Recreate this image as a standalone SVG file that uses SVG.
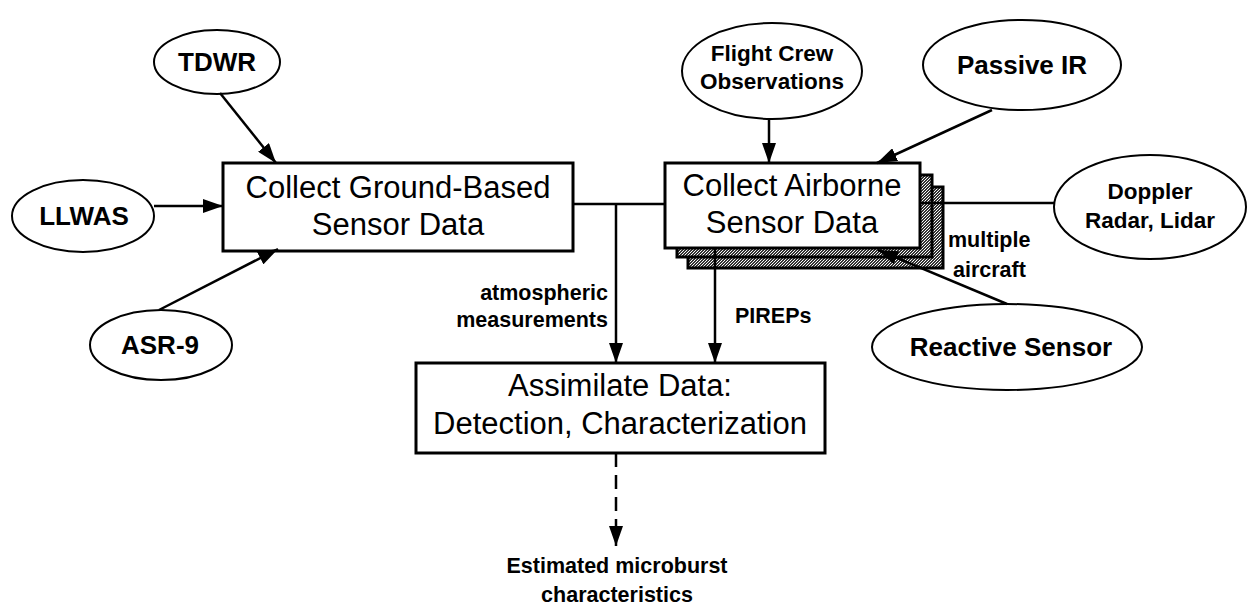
<svg xmlns="http://www.w3.org/2000/svg" width="1248" height="607" viewBox="0 0 1248 607">
<style>
.box{fill:#fff;stroke:#000;stroke-width:3}
.shadow{fill:url(#dither);stroke:#000;stroke-width:3}
.ell{fill:#fff;stroke:#000;stroke-width:2}
.btxt{font-family:"Liberation Sans",Arial,sans-serif;font-size:31px;fill:#000;text-anchor:middle}
.etxt{font-family:"Liberation Sans",Arial,sans-serif;font-size:26px;font-weight:bold;fill:#000;text-anchor:middle}
.esm{font-size:22.5px}
.ltxt{font-family:"Liberation Sans",Arial,sans-serif;font-size:21.5px;font-weight:bold;fill:#000}
.con{fill:none;stroke:#000;stroke-width:2.5}
</style>
<defs>
<pattern id="dither" width="3" height="3" patternUnits="userSpaceOnUse">
<rect width="3" height="3" fill="#333"/>
<rect x="0" y="0" width="1" height="1" fill="#fff"/>
<rect x="2" y="1" width="1" height="1" fill="#eee"/>
<rect x="1" y="2" width="1" height="1" fill="#fff"/>
</pattern>
<marker id="arr" markerUnits="userSpaceOnUse" markerWidth="20" markerHeight="14" viewBox="0 0 20 14" refX="20" refY="7" orient="auto">
<path d="M0,0 L20,7 L0,14 Z" fill="#000"/>
</marker>
</defs>
<rect width="1248" height="607" fill="#fff"/>

<g id="tdwr"><ellipse class="ell" cx="217" cy="62" rx="63" ry="32"/><text class="etxt" x="217" y="71">TDWR</text></g>
<g id="llwas"><ellipse class="ell" cx="83" cy="216" rx="71" ry="36"/><text class="etxt" x="84" y="225">LLWAS</text></g>
<g id="asr9"><ellipse class="ell" cx="161" cy="345" rx="71" ry="35"/><text class="etxt" x="160" y="354">ASR-9</text></g>
<g id="flightcrew"><ellipse class="ell" cx="772" cy="71" rx="90" ry="48"/><text class="etxt esm" x="772" y="61">Flight Crew</text><text class="etxt esm" x="772" y="89">Observations</text></g>
<g id="passiveir"><ellipse class="ell" cx="1022" cy="65" rx="99" ry="45"/><text class="etxt" x="1022" y="74">Passive IR</text></g>
<g id="doppler"><ellipse class="ell" cx="1150" cy="207" rx="96" ry="52"/><text class="etxt esm" x="1150" y="199">Doppler</text><text class="etxt esm" x="1150" y="228">Radar, Lidar</text></g>
<g id="reactive"><ellipse class="ell" cx="1007" cy="347" rx="135" ry="43"/><text class="etxt" x="1011" y="356">Reactive Sensor</text></g>

<g id="ground"><rect class="box" x="223" y="163" width="350" height="88"/><text class="btxt" x="398" y="198">Collect Ground-Based</text><text class="btxt" x="398" y="235">Sensor Data</text></g>

<g id="airborne">
<rect class="shadow" x="688" y="187" width="255" height="81"/>
<rect class="shadow" x="677" y="175" width="255" height="82"/>
<rect class="box" x="665" y="163" width="255" height="85"/>
<text class="btxt" x="792" y="196">Collect Airborne</text><text class="btxt" x="792" y="233">Sensor Data</text>
</g>

<g id="assimilate"><rect class="box" x="416" y="363" width="409" height="90"/><text class="btxt" x="620" y="396">Assimilate Data:</text><text class="btxt" x="620" y="434">Detection, Characterization</text></g>

<g id="connectors">
<line class="con" x1="220" y1="93" x2="276" y2="163" marker-end="url(#arr)"/>
<line class="con" x1="154" y1="206" x2="223" y2="206" marker-end="url(#arr)"/>
<line class="con" x1="159" y1="310" x2="278" y2="249" marker-end="url(#arr)"/>
<line class="con" x1="769" y1="119" x2="769" y2="163" marker-end="url(#arr)"/>
<line class="con" x1="992" y1="110" x2="877" y2="163" marker-end="url(#arr)"/>
<line class="con" x1="1054" y1="203" x2="920" y2="203" stroke-width="2"/>
<line class="con" x1="1007" y1="304" x2="878" y2="250" stroke-width="2" marker-end="url(#arr)"/>
<line class="con" x1="573" y1="204" x2="665" y2="204"/>
<line class="con" x1="616" y1="204" x2="616" y2="363" marker-end="url(#arr)"/>
<line class="con" x1="715" y1="248" x2="715" y2="363" marker-end="url(#arr)"/>
<line class="con" x1="616" y1="453" x2="616" y2="546" stroke-dasharray="14,8" marker-end="url(#arr)"/>
</g>

<g id="labels">
<text class="ltxt" x="608" y="300" text-anchor="end">atmospheric</text>
<text class="ltxt" x="608" y="327" text-anchor="end">measurements</text>
<text class="ltxt" x="735" y="323">PIREPs</text>
<text class="ltxt" x="948" y="247">multiple</text>
<text class="ltxt" x="953" y="277">aircraft</text>
<text class="ltxt" x="617" y="573" text-anchor="middle">Estimated microburst</text>
<text class="ltxt" x="617" y="602" text-anchor="middle">characteristics</text>
</g>
</svg>
